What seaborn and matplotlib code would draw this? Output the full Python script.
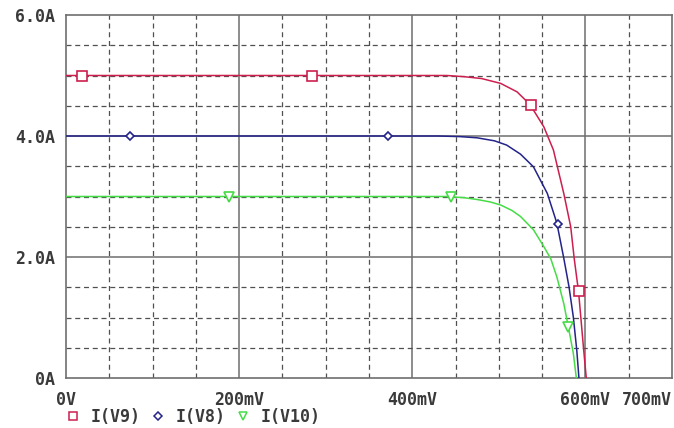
import numpy as np
import pandas as pd
import seaborn as sns
import matplotlib
matplotlib.use('Agg')
from matplotlib import pyplot as plt
from matplotlib.lines import Line2D

# curve values (V in mV, I in A)
v9_v = [0, 300, 440, 460, 480, 502, 521, 536, 552, 563, 575, 583, 587, 590, 592, 595, 598, 601]
v9_i = [5.0, 5.0, 5.0, 4.98, 4.95, 4.87, 4.73, 4.52, 4.15, 3.77, 3.05, 2.50, 1.98, 1.65, 1.44, 0.95, 0.46, 0.0]
v8_v = [0, 300, 430, 455, 475, 495, 509, 525, 540, 556, 567, 575, 581, 586, 590, 592.5]
v8_i = [4.0, 4.0, 4.0, 3.99, 3.97, 3.92, 3.85, 3.70, 3.49, 3.05, 2.56, 1.98, 1.51, 1.01, 0.46, 0.0]
v10_v = [0, 300, 440, 460, 475, 490, 502, 515, 525, 540, 552, 560, 567, 575, 581, 586, 589.5]
v10_i = [3.0, 3.0, 3.0, 2.98, 2.95, 2.91, 2.86, 2.77, 2.67, 2.45, 2.17, 1.97, 1.67, 1.23, 0.79, 0.41, 0.0]

# marker positions
m9_v = [18, 284, 537, 592]
m9_i = [5.0, 5.0, 4.52, 1.44]
m8_v = [74, 372, 568]
m8_i = [4.0, 4.0, 2.55]
m10_v = [188, 445, 580]
m10_i = [3.0, 3.0, 0.84]

labels = ['I(V9)', 'I(V8)', 'I(V10)']
colors = ['#cc1f4e', '#23238a', '#46dc46']
xtick_vals = [0, 200, 400, 600, 700]
xtick_text = ['0V', '200mV', '400mV', '600mV', '700mV']
ytick_vals = [0, 2, 4, 6]
ytick_text = ['0A', '2.0A', '4.0A', '6.0A']

sns.set_style('white')
plt.rcParams['font.family'] = ['DejaVu Sans Mono']
txt = '#3a3a3a'
fs = 12

fig = plt.figure(figsize=(6.74, 4.28), dpi=100)
ax = fig.add_axes([66/674, 50/428, 606/674, 363/428])

# grid: dashed every 50mV / 0.5A, solid on major lines
for x in np.arange(50, 700, 50):
    if x in (200, 400, 600):
        ax.axvline(x, color='#6e6e6e', lw=1.1, zorder=1)
    else:
        ax.axvline(x, color='#505050', lw=0.9, ls=(0, (4, 3)), zorder=1)
for y in np.arange(0.5, 6, 0.5):
    if y in (2, 4):
        ax.axhline(y, color='#6e6e6e', lw=1.1, zorder=1)
    else:
        ax.axhline(y, color='#505050', lw=0.9, ls=(0, (4, 3)), zorder=1)

curves = [(v9_v, v9_i), (v8_v, v8_i), (v10_v, v10_i)]
for (vv, ii), lab, c in zip(curves, labels, colors):
    df = pd.DataFrame({'V': vv, 'I': ii})
    sns.lineplot(data=df, x='V', y='I', color=c, lw=1.1, ax=ax, sort=False,
                 estimator=None, zorder=3)

mk = [(m9_v, m9_i, 's', 7), (m8_v, m8_i, 'D', 4.5), (m10_v, m10_i, 'v', 6.5)]
for (vv, ii, m, s), c in zip(mk, colors):
    ax.plot(vv, ii, ls='none', marker=m, ms=s, mfc='white', mec=c, mew=1.2, zorder=4)

ax.set_xlim(0, 700)
ax.set_ylim(0, 6)
ax.set_xlabel('')
ax.set_ylabel('')
ax.set_xticks(xtick_vals)
ax.set_xticklabels(xtick_text, fontsize=fs, fontweight='bold', color=txt)
ax.get_xticklabels()[-1].set_horizontalalignment('right')
ax.set_yticks(ytick_vals)
ax.set_yticklabels(ytick_text, fontsize=fs, fontweight='bold', color=txt)
ax.tick_params(axis='both', length=6, width=1, color='#6e6e6e', direction='out', pad=2)
ax.tick_params(axis='x', pad=3.5)
for sp in ax.spines.values():
    sp.set_color('#6e6e6e')
    sp.set_linewidth(1.2)

handles = [Line2D([], [], ls='none', marker=m, ms=s * 0.85, mfc='white', mec=c, mew=1.1)
           for (_, _, m, s), c in zip(mk, colors)]
leg = fig.legend(handles, labels, ncol=3, loc='center left', bbox_to_anchor=(66/674, 1 - 417/428),
                 frameon=False, handlelength=0.8, handletextpad=0.66, columnspacing=0.66,
                 borderpad=0, borderaxespad=0, prop={'size': fs, 'weight': 'bold'})
for t in leg.get_texts():
    t.set_color(txt)

fig.savefig('out.png', dpi=100)
